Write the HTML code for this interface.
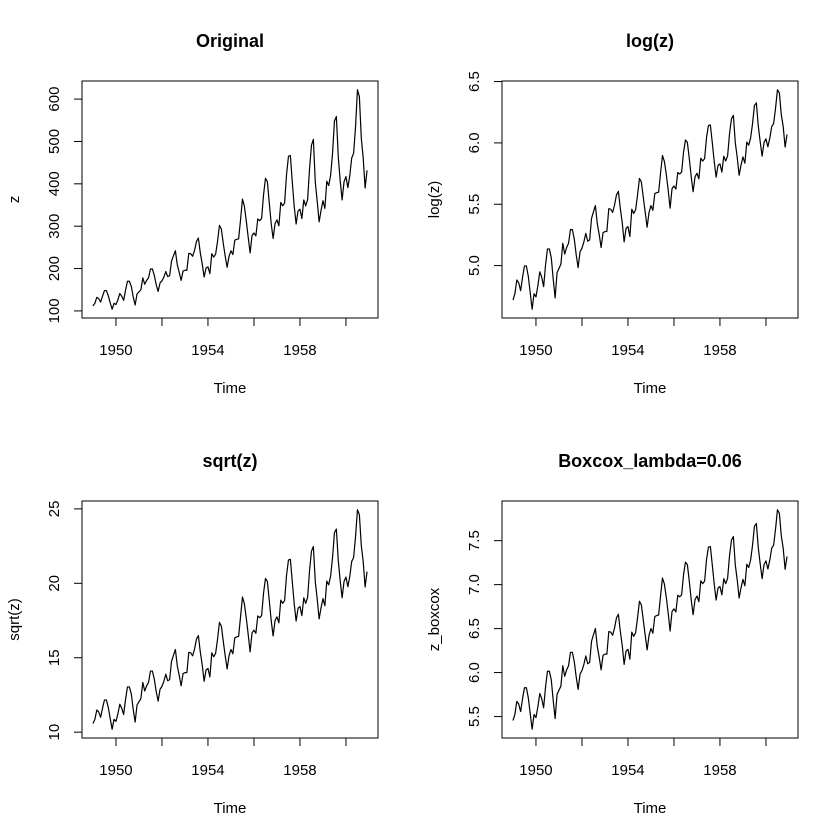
<!DOCTYPE html>
<html><head><meta charset="utf-8"><style>
body{margin:0;background:#fff}
svg{display:block;font-family:"Liberation Sans",Arial,sans-serif}
</style></head><body>
<svg id="c" width="840" height="840" viewBox="0 0 840 840"></svg>
<script>
const passengers=[112,118,132,129,121,135,148,148,136,119,104,118,
115,126,141,135,125,149,170,170,158,133,114,140,
145,150,178,163,172,178,199,199,184,162,146,166,
171,180,193,181,183,218,230,242,209,191,172,194,
196,196,236,235,229,243,264,272,237,211,180,201,
204,188,235,227,234,264,302,293,259,229,203,229,
242,233,267,269,270,315,364,347,312,274,237,278,
284,277,317,313,318,374,413,405,355,306,271,306,
315,301,356,348,355,422,465,467,404,347,305,336,
340,318,362,348,363,435,491,505,404,359,310,337,
360,342,406,396,420,472,548,559,463,407,362,405,
417,391,419,461,472,535,622,606,508,461,390,432];
const startYear=1949;
const lambda=0.06;
const xTicks=[1950,1952,1954,1956,1958,1960];
const xTickLabels=["1950","","1954","","1958",""];
const ticksOrig=[100,200,300,400,500,600];
const ticksLog=[5.0,5.5,6.0,6.5];
const ticksSqrt=[10,15,20,25];
const ticksBox=[5.5,6.0,6.5,7.0,7.5];
const NS="http://www.w3.org/2000/svg";
const svg=document.getElementById('c');
function mk(tag,attrs,parent){const e=document.createElementNS(NS,tag);for(const k in attrs)e.setAttribute(k,attrs[k]);(parent||svg).appendChild(e);return e;}
const panels=[
 {title:"Original",ylab:"z",f:v=>v,ticks:ticksOrig,fmt:t=>String(t),ox:0,oy:0,name:"original"},
 {title:"log(z)",ylab:"log(z)",f:v=>Math.log(v),ticks:ticksLog,fmt:t=>t.toFixed(1),ox:420,oy:0,name:"log"},
 {title:"sqrt(z)",ylab:"sqrt(z)",f:v=>Math.sqrt(v),ticks:ticksSqrt,fmt:t=>String(t),ox:0,oy:420,name:"sqrt"},
 {title:"Boxcox_lambda=0.06",ylab:"z_boxcox",f:v=>(Math.pow(v,lambda)-1)/lambda,ticks:ticksBox,fmt:t=>t.toFixed(1),ox:420,oy:420,name:"boxcox"}
];
const n=passengers.length;
const t0=startYear,t1=startYear+(n-1)/12;
const tpad=(t1-t0)*0.04;
panels.forEach(p=>{
 const L=82+p.ox,R=378+p.ox,T=81+p.oy,B=318+p.oy;
 const g=mk('g',{});
 
 
 const vals=passengers.map(p.f);
 const mn=Math.min(...vals),mx=Math.max(...vals),pad=(mx-mn)*0.04;
 const y0=mn-pad,y1=mx+pad;
 const xs=t=>L+(t-(t0-tpad))/((t1+tpad)-(t0-tpad))*(R-L);
 const ys=v=>B-(v-y0)/(y1-y0)*(B-T);
 const box=mk('rect',{x:L,y:T,width:R-L,height:B-T,fill:'none',stroke:'#000','stroke-width':1},g);
 
 
 const pts=vals.map((v,i)=>xs(t0+i/12).toFixed(2)+','+ys(v).toFixed(2)).join(' ');
 const line=mk('polyline',{points:pts,fill:'none',stroke:'#000','stroke-width':1.2,'stroke-linejoin':'round'},g);
 
 
 const xa=mk('g',{},g);
 
 
 mk('line',{x1:xs(xTicks[0]),x2:xs(xTicks[xTicks.length-1]),y1:B,y2:B,stroke:'#000'},xa);
 xTicks.forEach((t,i)=>{
  const x=xs(t);
  mk('line',{x1:x,x2:x,y1:B,y2:B+8,stroke:'#000'},xa);
  if(xTickLabels[i]){const tx=mk('text',{x:x,y:B+37,'text-anchor':'middle','font-size':15},xa);tx.textContent=xTickLabels[i];}
 });
 const xl=mk('text',{x:(L+R)/2,y:B+75,'text-anchor':'middle','font-size':15},g);
 xl.textContent="Time";
 
 
 const ya=mk('g',{},g);
 
 
 const tk=p.ticks;
 mk('line',{x1:L,x2:L,y1:ys(tk[0]),y2:ys(tk[tk.length-1]),stroke:'#000'},ya);
 tk.forEach(t=>{
  const y=ys(t);
  mk('line',{x1:L-8,x2:L,y1:y,y2:y,stroke:'#000'},ya);
  const tx=mk('text',{x:0,y:0,'text-anchor':'middle','font-size':15,transform:`translate(${L-23},${y}) rotate(-90)`},ya);
  tx.textContent=p.fmt(t);
 });
 const yl=mk('text',{x:0,y:0,'text-anchor':'middle','font-size':15,transform:`translate(${L-63},${(T+B)/2}) rotate(-90)`},g);
 yl.textContent=p.ylab;
 
 
 const ti=mk('text',{x:(L+R)/2,y:T-34,'text-anchor':'middle','font-size':18,'font-weight':'bold'},g);
 ti.textContent=p.title;
 
 
});
</script>
</body></html>
